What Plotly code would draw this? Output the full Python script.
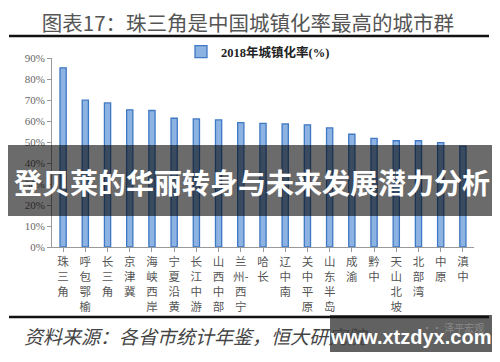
import plotly.graph_objects as go

# ---- data ----
regions = ["珠三角", "呼包鄂榆", "长三角", "京津冀", "海峡西岸", "宁夏沿黄", "长江中游",
           "山西中部", "兰州-西宁", "哈长", "辽中南", "关中平原", "山东半岛", "成渝",
           "黔中", "天山北坡", "北部湾", "中原", "滇中"]
urban_rate_2018 = [85.3, 69.9, 68.6, 65.3, 65.0, 61.3, 61.0, 60.5, 59.2, 58.9, 58.6,
                   58.2, 56.7, 53.7, 51.7, 50.6, 50.6, 49.7, 48.0]
series_name = "2018年城镇化率(%)"
y_ticks = [0, 10, 20, 30, 40, 50, 60, 70, 80, 90]
y_tick_labels = [f"{v}%" for v in y_ticks]


def vertical(label):
    if label == "兰州-西宁":
        return "兰<br>州-<br>西<br>宁"
    return "<br>".join(list(label))


x_labels = [vertical(r) for r in regions]

fig = go.Figure()
fig.add_trace(go.Bar(
    x=list(range(len(regions))),
    y=urban_rate_2018,
    name=series_name,
    width=0.28,
    marker=dict(color="#8db3e2", line=dict(color="#3f78c4", width=1.3)),
    showlegend=True,
))

# the page body has an 8px default margin: figure pixel (x, y) shows at (x+8, y+8)
O = 8
W, H = 500, 362
PL, PR, PT, PB = 52, 474, 58, 247          # plot area in window pixels
L, R, T, B = PL - O, W - (PR - O), PT - O, H - (PB - O)
pw, ph = PR - PL, PB - PT


def px(x):
    return (x - PL) / pw


def py(y):
    return (PB - y) / ph


fig.update_layout(
    width=W, height=H,
    margin=dict(l=L, r=R, t=T, b=B, autoexpand=False),
    paper_bgcolor="white", plot_bgcolor="white",
    font=dict(family="Noto Sans CJK SC", color="#555"),
    title=dict(text="图表17：珠三角是中国城镇化率最高的城市群",
               x=(248 - O) / W, xanchor="center", y=1 - (24 - O) / H, yanchor="middle",
               font=dict(size=20.5, color="#555", family="Noto Sans CJK SC")),
    showlegend=True,
    legend=dict(orientation="h", x=px(258), xanchor="center", y=py(52), yanchor="middle",
                font=dict(size=12.5, color="#222", family="Liberation Serif, Noto Sans CJK SC",
                          weight="bold"),
                bgcolor="rgba(0,0,0,0)", itemwidth=30),
    xaxis=dict(
        tickmode="array", tickvals=list(range(len(regions))), ticktext=x_labels,
        range=[-0.5, len(regions) - 0.5], automargin=False,
        showline=True, linecolor="#999", linewidth=1,
        ticks="outside", tickson="boundaries", ticklen=4, tickcolor="#999",
        tickfont=dict(size=11.5, color="#555", family="Noto Sans CJK SC"),
        showgrid=False, zeroline=False, tickangle=0,
    ),
    yaxis=dict(
        range=[0, 90], tickmode="array", tickvals=y_ticks, ticktext=y_tick_labels,
        automargin=False,
        showline=True, linecolor="#999", linewidth=1,
        ticks="outside", ticklen=4, tickcolor="#999",
        tickfont=dict(size=11, color="#666", family="Liberation Serif"),
        showgrid=False, zeroline=False,
    ),
)

# source
fig.add_annotation(xref="paper", yref="paper", x=px(22), y=py(335), xanchor="left",
                   yanchor="middle", showarrow=False,
                   text="<i>资料来源：各省市统计年鉴，恒大研究院</i>",
                   font=dict(size=19, color="#444", family="Noto Sans CJK SC"))

# overlay banner
fig.add_shape(type="rect", xref="paper", yref="paper", layer="above",
              x0=px(0), x1=px(497), y0=py(145), y1=py(216),
              fillcolor="rgba(0,0,0,0.58)", line=dict(width=0))
fig.add_annotation(xref="paper", yref="paper", x=px(252), y=py(182), xanchor="center",
                   yanchor="middle", showarrow=False,
                   text="<b>登贝莱的华丽转身与未来发展潜力分析</b>",
                   font=dict(size=28, color="white", family="Noto Sans CJK SC"))

# watermark box
fig.add_shape(type="rect", xref="paper", yref="paper", layer="above",
              x0=px(330), x1=px(492), y0=py(315), y1=py(352),
              fillcolor="rgba(0,0,0,0.62)", line=dict(width=0))

# rules above and below the chart
fig.add_shape(type="line", xref="paper", yref="paper", layer="above", x0=px(9), x1=px(489),
              y0=py(36), y1=py(36), line=dict(color="#111", width=2.5))
fig.add_shape(type="line", xref="paper", yref="paper", layer="above", x0=px(9), x1=px(489),
              y0=py(317), y1=py(317), line=dict(color="#111", width=2.5))

fig.add_annotation(xref="paper", yref="paper", x=px(486), y=py(327), xanchor="right",
                   yanchor="middle", showarrow=False, text="·· 泽平宏观",
                   font=dict(size=10, color="#8a8a8a", family="Noto Sans CJK SC"))
fig.add_annotation(xref="paper", yref="paper", x=px(410), y=py(337), xanchor="center",
                   yanchor="middle", showarrow=False, text="<b>www.xtzdyx.com</b>",
                   font=dict(size=20, color="white", family="Liberation Sans"))

fig.write_html("out.html")
